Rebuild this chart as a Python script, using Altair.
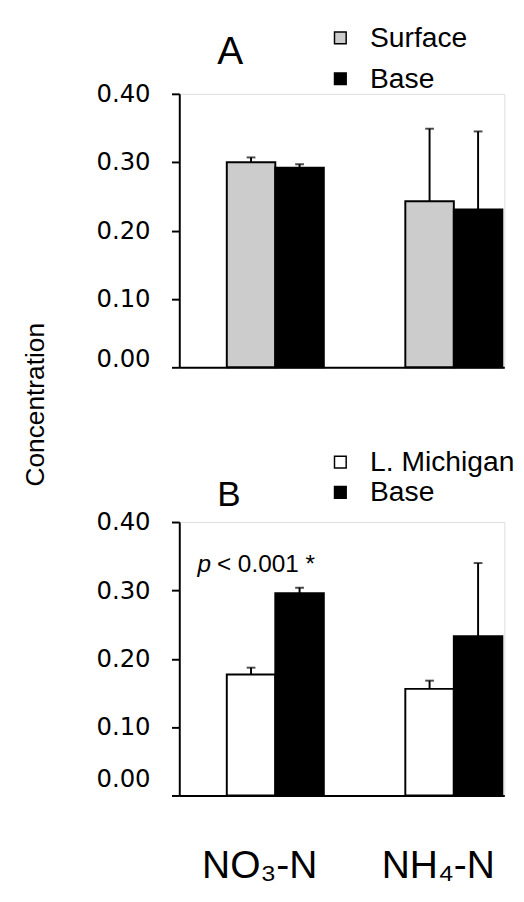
import altair as alt
import pandas as pd

nutrients = ["NO₃-N", "NH₄-N"]

# Panel A: Surface vs Base
a_series = ["Surface", "Base"]
a_surface = [0.300, 0.243]
a_surface_err = [0.007, 0.106]
a_base = [0.292, 0.231]
a_base_err = [0.005, 0.114]
a_colors = ["#cccccc", "black"]

# Panel B: L. Michigan vs Base
b_series = ["L. Michigan", "Base"]
b_mich = [0.177, 0.156]
b_mich_err = [0.010, 0.012]
b_base = [0.296, 0.233]
b_base_err = [0.008, 0.107]
b_colors = ["white", "black"]

y_ticks = [0.0, 0.05, 0.10, 0.15, 0.20, 0.25, 0.30, 0.35, 0.40]
p_note = "< 0.001 *"

FONT = "Liberation Sans"
W, H = 334, 281


def make_df(series, v1, e1, v2, e2):
    rows = []
    for i, n in enumerate(nutrients):
        rows.append(dict(nutrient=n, series=series[0], value=v1[i], err=e1[i]))
        rows.append(dict(nutrient=n, series=series[1], value=v2[i], err=e2[i]))
    df = pd.DataFrame(rows)
    df["top"] = df["value"] + df["err"]
    return df


x_scale = alt.Scale(domain=nutrients, paddingInner=0.4565, paddingOuter=0.1386, align=0.96)


def panel(df, series, colors, letter, letter_size, letter_dy, legend_y, row_pad,
          zero_shift, show_x_labels, y_title):
    yaxis_kwargs = dict(
        values=y_ticks,
        labelExpr="round(datum.value*20) % 2 == 0 ? format(datum.value, '.2f') : ''",
        labelFont="DejaVu Sans", labelFontSize=25, labelPadding=22, labelColor="black",
        labelOffset={"condition": {"test": "datum.value == 0", "value": zero_shift}, "value": 0},
        tickSize=8, tickWidth=2, tickColor="black",
        domainColor="black", domainWidth=2, grid=False,
    )
    if y_title:
        yaxis_kwargs.update(
            title=y_title, titleFont=FONT, titleFontSize=27,
            titleFontWeight="normal", titleColor="black", titleAngle=270,
            titleX=-140, titleY=319, titleAlign="center", titleBaseline="alphabetic",
        )
    else:
        yaxis_kwargs.update(title=None)
    if show_x_labels:
        xaxis = alt.Axis(title=None, ticks=False, tickSize=0, labelFont=FONT, labelFontSize=40,
                         labelColor="black", labelAngle=0, labelPadding=84, labelOffset=-16,
                         labelBaseline="alphabetic", domainColor="black", domainWidth=2)
    else:
        xaxis = alt.Axis(title=None, ticks=False, labels=False, domainColor="black", domainWidth=2)

    x = alt.X("nutrient:N", scale=x_scale, axis=xaxis, sort=nutrients)
    xo = alt.XOffset("series:N", sort=series,
                     scale=alt.Scale(domain=series, paddingInner=0, paddingOuter=0))
    y = alt.Y("value:Q", scale=alt.Scale(domain=[0, 0.4], nice=False, zero=True),
              axis=alt.Axis(**yaxis_kwargs))

    base = alt.Chart(df)
    bars = base.mark_bar(stroke="black", strokeWidth=2).encode(
        x=x, xOffset=xo, y=y,
        fill=alt.Fill("series:N", sort=series,
                      scale=alt.Scale(domain=series, range=colors),
                      legend=alt.Legend(orient="none", legendX=151, legendY=legend_y, title=None,
                                        symbolType="square", symbolSize=144,
                                        symbolStrokeColor="black", symbolStrokeWidth=1.5,
                                        labelFont=FONT, labelFontSize=29, labelColor="black",
                                        labelOffset=16, rowPadding=row_pad, padding=0,
                                        labelLimit=400)),
    )
    rules = base.mark_rule(color="black", strokeWidth=2).encode(
        x=x, xOffset=xo, y="value:Q", y2="top:Q")
    caps = base.mark_tick(color="black", orient="horizontal", size=9, thickness=2).encode(
        x=x, xOffset=xo, y="top:Q")
    lab = alt.Chart(pd.DataFrame({"label": [letter]})).mark_text(
        font=FONT, fontSize=letter_size, align="left", baseline="alphabetic", color="black"
    ).encode(x=alt.value(39), y=alt.value(letter_dy), text="label:N")
    return [bars, rules, caps, lab]


df_a = make_df(a_series, a_surface, a_surface_err, a_base, a_base_err)
df_b = make_df(b_series, b_mich, b_mich_err, b_base, b_base_err)

top_layers = panel(df_a, a_series, a_colors, "A", 40, -31, -72, 12, -9, False, "Concentration")
bot_layers = panel(df_b, b_series, b_colors, "B", 36, -16, -76, 1, -17, True, None)

note_df = df_b[(df_b["nutrient"] == nutrients[0]) & (df_b["series"] == "Base")].copy()
note_df["note"] = p_note
note_df["p"] = "p"
note_x = alt.X("nutrient:N", scale=x_scale, sort=nutrients)
note = alt.Chart(note_df).mark_text(font=FONT, fontSize=25, align="left",
                                    baseline="alphabetic", color="black", dx=-60, dy=-16).encode(
    x=note_x, y="top:Q", text="note:N")
note_p = alt.Chart(note_df).mark_text(font=FONT, fontSize=25, fontStyle="italic", align="left",
                                      baseline="alphabetic", color="black", dx=-80, dy=-16).encode(
    x=note_x, y="top:Q", text="p:N")
bot_layers += [note, note_p]

top = alt.layer(*top_layers).properties(width=W, height=H)
bot = alt.layer(*bot_layers).properties(width=W, height=H)

chart = alt.vconcat(top, bot, spacing=159, bounds="flush").resolve_scale(
    fill="independent", xOffset="independent"
).properties(
    padding={"left": 13, "top": 3, "right": 0, "bottom": -4}
).configure_view(stroke=None).configure(background="white")

chart.save("out.html", embed_options={"renderer": "svg", "actions": False})
